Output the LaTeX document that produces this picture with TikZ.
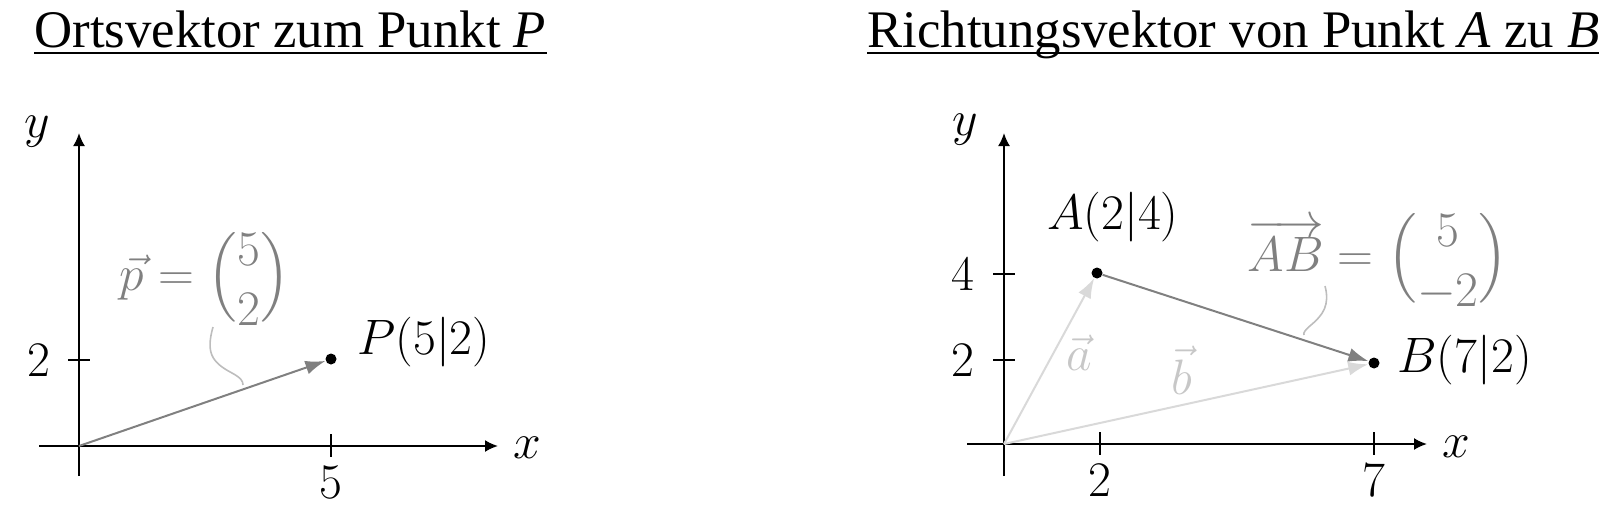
\documentclass[tikz,border=0pt]{standalone}
\usepackage[no-math]{fontspec}
\setmainfont{Liberation Serif}
\usepackage{amsmath}
\usetikzlibrary{arrows.meta}

\definecolor{vecgray}{gray}{0.5}
\definecolor{lightvec}{gray}{0.85}
\definecolor{lightlab}{gray}{0.78}
\definecolor{wigglegray}{gray}{0.74}

% column vector with round brackets
\newcommand{\colvec}[2]{\Big(\raisebox{-2.75pt}{$\displaystyle\def\arraystretch{0.94}\begin{array}{@{}c@{}}#1\\#2\end{array}$}\Big)}

\begin{document}
\begin{tikzpicture}[x=0.5pt, y=-0.5pt,
  title/.style={inner sep=0pt, font=\fontsize{26.4}{31}\selectfont},
  lab/.style={font=\fontsize{27}{32}\selectfont},
  axis/.style={line width=1pt, -{Latex[length=6.5pt,width=6pt]}},
  tick/.style={line width=1pt},
  vec/.style={line width=1pt, vecgray, -{Latex[length=10pt,width=7pt]}},
  lightv/.style={vec, lightvec},
  dot/.style={circle, fill=black, inner sep=0pt, minimum size=5.5pt},
  wiggle/.style={line width=0.8pt, wigglegray}]
\useasboundingbox (0,0) rectangle (1599,508);

% Ortsvektor
\node[title, anchor=base west] (t_1) at (34,48) {Ortsvektor zum Punkt \textit{P}};
\draw[line width=1pt] ([yshift=-2.5pt]t_1.base west) -- ([yshift=-2.5pt]t_1.base east);

\draw[axis] (39,446) -- (498,446);
\draw[axis] (79,476) -- (79,133);
\node[lab] (x_1) at (527,448) {$x$};
\node[lab] (y_1) at (37,132) {$y$};
\draw[tick] (68,360) -- (90,360);
\draw[tick] (331,434) -- (331,457);
\node[lab] at (39,360) {$2$};
\node[lab] at (331,482) {$5$};

\coordinate (O_1) at (79,446);
\node[dot] (P) at (331,359) {};
\node[lab, inner sep=0pt, anchor=west] (P_lab) at (357,342) {$P(5|2)$};
\draw[vec] (O_1) -- (P);
\node[lab, vecgray, anchor=base] (p_lab) at (205,290) {$\vec{p}=\colvec{5}{2}$};
\coordinate (p_1) at (213,327);
\coordinate (p_2) at (243,385);
\draw[wiggle] (p_1) .. controls (206,352) and (211,362) .. (232,373)
    .. controls (241,378) and (243,381) .. (p_2);

% Richtungsvektor
\node[title, anchor=base west] (t_2) at (867,48) {Richtungsvektor von Punkt \textit{A} zu \textit{B}};
\draw[line width=1pt] ([yshift=-2.5pt]t_2.base west) -- ([yshift=-2.5pt]t_2.base east);

\draw[axis] (967,444) -- (1427,444);
\draw[axis] (1004,476) -- (1004,133);
\node[lab] (x_2) at (1456,447) {$x$};
\node[lab] (y_2) at (965,130) {$y$};
\draw[tick] (993,274) -- (1015,274);
\draw[tick] (993,360) -- (1015,360);
\draw[tick] (1100,432) -- (1100,455);
\draw[tick] (1374,432) -- (1374,455);
\node[lab] at (963,274) {$4$};
\node[lab] at (963,360) {$2$};
\node[lab] at (1100,480) {$2$};
\node[lab] at (1374,480) {$7$};

\coordinate (O_2) at (1004,444);
\node[dot] (A) at (1097,273) {};
\node[dot] (B) at (1374,363) {};
\node[lab] (A_lab) at (1113,217) {$A(2|4)$};
\node[lab, inner sep=0pt, anchor=west] (B_lab) at (1397,360) {$B(7|2)$};
\draw[lightv] (O_2) -- (A);
\draw[lightv] (O_2) -- (B);
\draw[vec] (A) -- (B);
\node[lab, lightlab] (a_lab) at (1079,353) {$\vec{a}$};
\node[lab, lightlab] (b_lab) at (1182,370) {$\vec{b}$};
\node[lab, vecgray, anchor=base] (AB_lab) at (1378,271) {$\overrightarrow{AB}=\colvec{5}{-2}$};
\coordinate (ab_1) at (1325,286);
\coordinate (ab_2) at (1304,335);
\draw[wiggle] (ab_1) .. controls (1330,305) and (1323,315) .. (1311,325)
    .. controls (1305,330) and (1303,333) .. (ab_2);
\end{tikzpicture}
\end{document}
